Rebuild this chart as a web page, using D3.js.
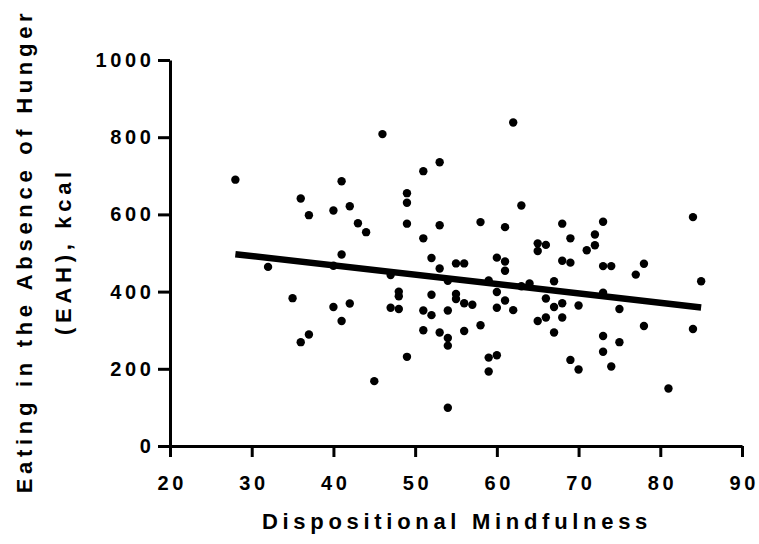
<!DOCTYPE html>
<html>
<head>
<meta charset="utf-8">
<script src="https://cdn.jsdelivr.net/npm/d3@7"></script>
<style>
  body { margin: 0; background: #fff; }
  svg { display: block; }
  text { font-family: "Liberation Sans", Arial, sans-serif; font-weight: bold; fill: #000; }
</style>
</head>
<body>
<svg id="chart" width="759" height="544"></svg>
<script>
// dispositional mindfulness score for each child
const mindfulness = [
  28, 46, 41, 36, 37, 40, 42, 43, 44, 49, 49, 49, 51, 53, 53, 51, 62, 63, 58, 61,
  68, 73, 69, 72, 84, 41, 32, 52, 53, 55, 47, 40, 54, 55, 55, 48, 48, 52, 35, 40,
  42, 41, 47, 48, 51, 52, 54, 51, 53, 54, 54, 37, 36, 49, 45, 54, 72, 65, 65, 66,
  71, 56, 60, 61, 61, 68, 69, 73, 74, 77, 78, 85, 59, 64, 67, 73, 56, 57, 60, 61,
  60, 62, 66, 67, 68, 70, 75, 65, 66, 68, 67, 58, 56, 78, 84, 73, 75, 73, 59, 60,
  59, 69, 70, 74, 81, 63
];
// eating in the absence of hunger, kcal
const eah = [
  690, 808, 686, 641, 598, 610, 621, 577, 554, 655, 630, 576, 712, 735, 572, 538, 838, 623, 580, 567,
  576, 581, 538, 548, 593, 496, 464, 487, 460, 473, 443, 467, 428, 394, 381, 400, 388, 392, 383, 360,
  369, 324, 358, 355, 351, 339, 351, 300, 294, 280, 260, 289, 269, 231, 168, 99, 520, 525, 505, 521,
  507, 473, 488, 478, 454, 480, 475, 466, 466, 444, 472, 427, 429, 421, 427, 397, 370, 366, 399, 377,
  358, 352, 382, 360, 370, 364, 355, 324, 333, 333, 294, 313, 298, 311, 303, 285, 269, 244, 229, 235,
  193, 223, 198, 206, 149, 414
];
// fitted regression line end points
const fitX = [28, 85];
const fitY = [497, 359];

const xTicks = [20, 30, 40, 50, 60, 70, 80, 90];
const yTicks = [0, 200, 400, 600, 800, 1000];

const svg = d3.select("#chart");

const x = d3.scaleLinear().domain([20, 90]).range([170, 742]);
const y = d3.scaleLinear().domain([0, 1000]).range([446, 60]);

const xAxis = svg.append("g")
  .attr("transform", "translate(0,446)")
  .call(d3.axisBottom(x).tickValues(xTicks).tickFormat(d3.format("d"))
    .tickSize(11).tickSizeOuter(0).tickPadding(19));

const yAxis = svg.append("g")
  .attr("transform", "translate(170,0)")
  .call(d3.axisLeft(y).tickValues(yTicks).tickFormat(d3.format("d"))
    .tickSize(12).tickSizeOuter(0).tickPadding(3.5));

[xAxis, yAxis].forEach(g => {
  g.selectAll("path, line").attr("stroke", "#000").attr("stroke-width", 3);
  g.selectAll("text")
    .style("font-size", "20px")
    .style("letter-spacing", "3.6px")
    .attr("fill", "#000");
});
xAxis.selectAll("text").attr("dx", "1.8px");

// points
svg.append("g")
  .selectAll("circle")
  .data(mindfulness.map((m, i) => [m, eah[i]]))
  .enter()
  .append("circle")
  .attr("cx", d => x(d[0]))
  .attr("cy", d => y(d[1]))
  .attr("r", 4.2)
  .attr("fill", "#000");

// regression line
svg.append("line")
  .attr("x1", x(fitX[0]))
  .attr("y1", y(fitY[0]))
  .attr("x2", x(fitX[1]))
  .attr("y2", y(fitY[1]))
  .attr("stroke", "#000")
  .attr("stroke-width", 6.5);

// axis titles
const titleStyle = sel => sel
  .attr("text-anchor", "middle")
  .style("font-size", "22px")
  .style("letter-spacing", "4.7px");

svg.append("text")
  .attr("x", 457)
  .attr("y", 529)
  .call(titleStyle)
  .text("Dispositional Mindfulness");

svg.append("text")
  .attr("transform", "translate(32,251) rotate(-90)")
  .call(titleStyle)
  .text("Eating in the Absence of Hunger");

svg.append("text")
  .attr("transform", "translate(70.5,251) rotate(-90)")
  .call(titleStyle)
  .text("(EAH), kcal");
</script>
</body>
</html>
